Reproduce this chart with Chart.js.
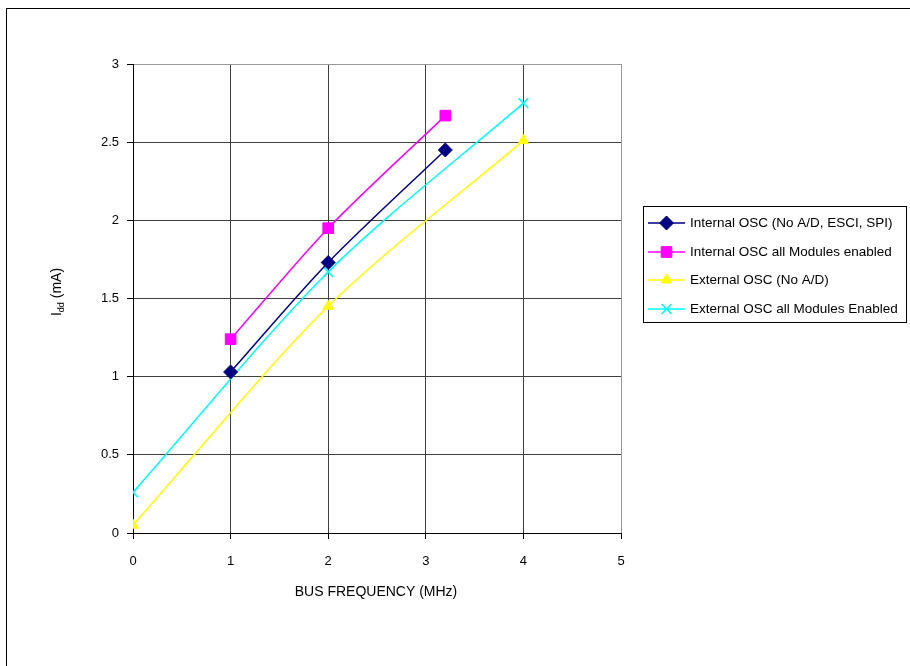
<!DOCTYPE html>
<html>
<head>
<meta charset="utf-8">
<script src="https://cdn.jsdelivr.net/npm/chart.js@4/dist/chart.umd.min.js"></script>
<style>
  html, body { margin: 0; padding: 0; background: #fff; }
  #wrap { position: relative; width: 910px; height: 666px; }
</style>
</head>
<body>
<div id="wrap"><canvas id="c" width="910" height="666"></canvas></div>
<script>
// ---- data ----
const seriesNames = [
  'Internal OSC (No A/D, ESCI, SPI)',
  'Internal OSC all Modules enabled',
  'External OSC (No A/D)',
  'External OSC all Modules Enabled'
];
const intNoAdX = [1, 2, 3.2];
const intNoAdY = [1.03, 1.73, 2.45];
const intAllX = [1, 2, 3.2];
const intAllY = [1.24, 1.95, 2.67];
const extNoAdX = [0, 2, 4];
const extNoAdY = [0.05, 1.45, 2.51];
const extAllX = [0, 2, 4];
const extAllY = [0.26, 1.67, 2.75];
const xTickValues = [0, 1, 2, 3, 4, 5];
const yTickValues = [0, 0.5, 1, 1.5, 2, 2.5, 3];
const yTickLabels = ['0', '0.5', '1', '1.5', '2', '2.5', '3'];
const xTitle = 'BUS FREQUENCY (MHz)';
const yTitleMain = 'I';
const yTitleSub = 'dd';
const yTitleRest = ' (mA)';

// ---- styles ----
const colors = ['#000080', '#FF00FF', '#FFFF00', '#00FFFF'];
const pStyles = ['rectRot', 'rect', 'triangle', 'crossRot'];
const pRadius = [7, 7.5, 6, 7];
const FONT = '"Liberation Sans", Arial, sans-serif';

function pts(xs, ys) { return xs.map((x, i) => ({ x: x, y: ys[i] })); }
const xsList = [intNoAdX, intAllX, extNoAdX, extAllX];
const ysList = [intNoAdY, intAllY, extNoAdY, extAllY];

const datasets = seriesNames.map((name, i) => ({
  label: name,
  data: pts(xsList[i], ysList[i]),
  borderColor: colors[i],
  backgroundColor: colors[i],
  borderWidth: 1.5,
  tension: 0.3,
  pointStyle: pStyles[i],
  pointRadius: pRadius[i],
  pointBorderWidth: i === 3 ? 1.5 : 1,
  pointBackgroundColor: colors[i],
  pointBorderColor: colors[i],
  showLine: true,
  fill: false
}));

const decor = {
  id: 'decor',
  afterDraw(chart) {
    const ctx = chart.ctx;
    ctx.save();
    // outer frame
    ctx.strokeStyle = '#000';
    ctx.lineWidth = 1;
    ctx.strokeRect(6.5, 8.5, 1200, 1200);

    // x title
    ctx.fillStyle = '#000';
    ctx.font = '14px ' + FONT;
    ctx.textAlign = 'center';
    ctx.textBaseline = 'middle';
    ctx.fillText(xTitle, 376, 592);

    // y title with subscript
    ctx.save();
    ctx.translate(56, 292);
    ctx.rotate(-Math.PI / 2);
    ctx.textAlign = 'left';
    ctx.textBaseline = 'alphabetic';
    ctx.font = '14px ' + FONT;
    const wI = ctx.measureText(yTitleMain).width;
    ctx.font = '9px ' + FONT;
    const wSub = ctx.measureText(yTitleSub).width;
    ctx.font = '14px ' + FONT;
    const wRest = ctx.measureText(yTitleRest).width;
    const total = wI + wSub + wRest;
    let x0 = -total / 2;
    const base = 5;
    ctx.fillText(yTitleMain, x0, base);
    x0 += wI;
    ctx.font = '9px ' + FONT;
    ctx.fillText(yTitleSub, x0, base + 3);
    x0 += wSub;
    ctx.font = '14px ' + FONT;
    ctx.fillText(yTitleRest, x0, base);
    ctx.restore();

    // legend
    const lx = 643, ly = 206, lw = 263, lh = 116;
    ctx.fillStyle = '#fff';
    ctx.fillRect(lx, ly, lw, lh);
    ctx.strokeStyle = '#000';
    ctx.lineWidth = 1;
    ctx.strokeRect(lx + 0.5, ly + 0.5, lw, lh);
    const rowY = [223, 252, 280, 309];
    chart.data.datasets.forEach((ds, i) => {
      const y = rowY[i];
      ctx.strokeStyle = ds.borderColor;
      ctx.lineWidth = 1.5;
      ctx.beginPath();
      ctx.moveTo(648, y);
      ctx.lineTo(685, y);
      ctx.stroke();
      ctx.fillStyle = ds.pointBackgroundColor;
      ctx.strokeStyle = ds.pointBorderColor;
      ctx.lineWidth = ds.pointBorderWidth;
      Chart.helpers.drawPoint(ctx, {
        pointStyle: ds.pointStyle,
        radius: ds.pointRadius,
        rotation: 0,
        borderWidth: ds.pointBorderWidth
      }, 666.5, y);
      ctx.fillStyle = '#000';
      ctx.font = '13.5px ' + FONT;
      ctx.textAlign = 'left';
      ctx.textBaseline = 'middle';
      ctx.fillText(ds.label, 690, y);
    });
    ctx.restore();
  }
};

const gridColor = (max) => (c) => (c.tick && c.tick.value === max) ? '#999999' : '#404040';

new Chart(document.getElementById('c'), {
  type: 'line',
  data: { datasets: datasets },
  options: {
    responsive: false,
    animation: false,
    devicePixelRatio: 1,
    layout: { padding: { left: 0, top: 64, right: 289, bottom: 0 } },
    plugins: { legend: { display: false }, tooltip: { enabled: false } },
    scales: {
      x: {
        type: 'linear',
        min: 0, max: 5,
        afterBuildTicks: (s) => { s.ticks = xTickValues.map(v => ({ value: v })); },
        afterFit: (s) => { s.height = 133; },
        ticks: { color: '#000', font: { family: FONT, size: 13 }, padding: 15, maxRotation: 0,
                 callback: (v) => String(v) },
        grid: { color: gridColor(5), tickColor: '#000', tickLength: 6, lineWidth: 1 },
        border: { color: '#000', width: 1 }
      },
      y: {
        type: 'linear',
        min: 0, max: 3,
        afterBuildTicks: (s) => { s.ticks = yTickValues.map(v => ({ value: v })); },
        afterFit: (s) => { s.width = 133; },
        ticks: { color: '#000', font: { family: FONT, size: 13 }, padding: 8,
                 callback: (v) => { const k = yTickValues.indexOf(v); return k >= 0 ? yTickLabels[k] : String(v); } },
        grid: { color: gridColor(3), tickColor: '#000', tickLength: 6, lineWidth: 1 },
        border: { color: '#000', width: 1 }
      }
    }
  },
  plugins: [decor]
});
</script>
</body>
</html>
